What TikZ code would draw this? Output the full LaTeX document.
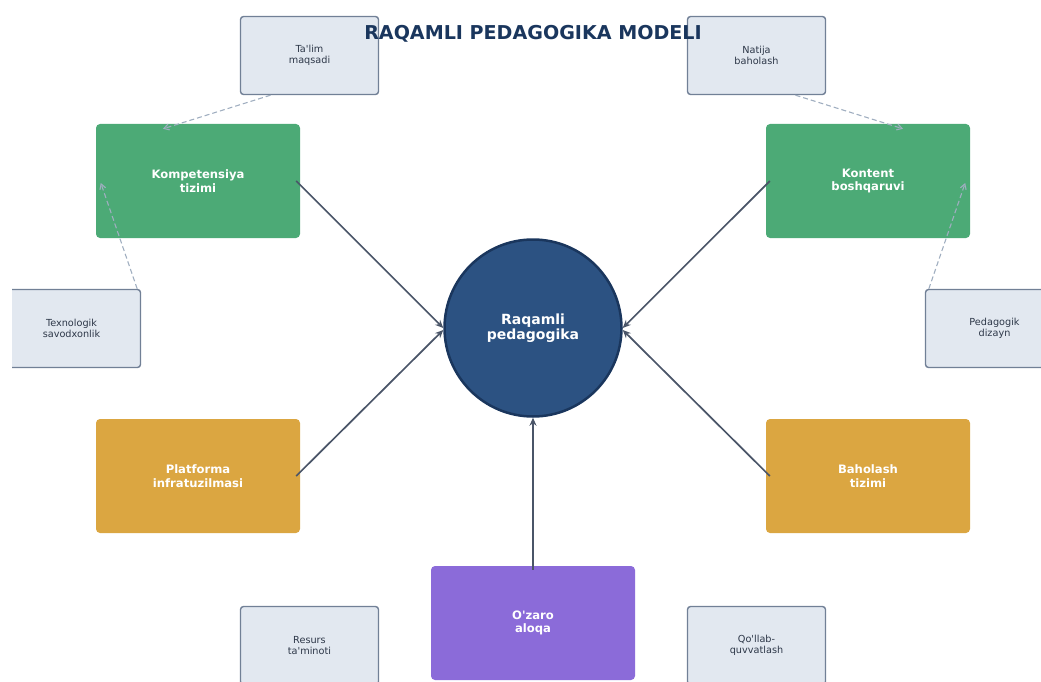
\documentclass[tikz,border=0pt]{standalone}
\usepackage{fontspec}
\setmainfont{DejaVu Sans}
\usetikzlibrary{arrows.meta}

\definecolor{navy}{HTML}{2C5282}
\definecolor{navyd}{HTML}{1A365D}
\definecolor{grn}{HTML}{4CAA76}
\definecolor{org}{HTML}{DBA641}
\definecolor{prp}{HTML}{8B6BD9}
\definecolor{pale}{HTML}{E2E8F0}
\definecolor{paled}{HTML}{718096}
\definecolor{link}{HTML}{4A5568}
\definecolor{dlink}{HTML}{A0AEC0}
\definecolor{txt}{HTML}{2D3748}

\newcommand{\q}{\textquotesingle}

\tikzstyle{cmain}=[circle, draw=navyd, line width=2.5pt, fill=navy, minimum size=177pt, inner sep=0pt, text=white, align=center, font=\fontsize{14}{15.5}\selectfont\bfseries]
\tikzstyle{cbox}=[rectangle, rounded corners=4pt, minimum width=204pt, minimum height=114pt, inner sep=0pt, text=white, align=center, font=\fontsize{11.6}{13.5}\selectfont\bfseries]
\tikzstyle{csmall}=[rectangle, rounded corners=3pt, draw=paled, line width=1.4pt, fill=pale, minimum width=138pt, minimum height=78pt, inner sep=0pt, text=txt, align=center, font=\fontsize{9.7}{11.5}\selectfont]
\tikzstyle{main}=[draw=link, line width=1.7pt, -{Stealth[length=8pt,width=7pt]}]
\tikzstyle{aux}=[draw=dlink, line width=1.1pt, dash pattern=on 5pt off 3pt, -{Straight Barb[length=5pt,width=6pt]}]

\begin{document}
\begin{tikzpicture}[x=1pt, y=-1pt]

\useasboundingbox (0,0) rectangle (1041,682);

\begin{scope}
\clip (12,0) rectangle (1041,682);

% small boxes
\node[csmall] (s1) at (309.5,55.5) {Ta\q lim\\maqsadi};
\node[csmall] (s2) at (756.5,55.5) {Natija\\baholash};
\node[csmall] (s3) at (71.5,328.5) {Texnologik\\savodxonlik};
\node[csmall] (s4) at (994.5,328.5) {Pedagogik\\dizayn};
\node[csmall] (s5) at (309.5,645.5) {Resurs\\ta\q minoti};
\node[csmall] (s6) at (756.5,645.5) {Qo\q llab-\\quvvatlash};

% main boxes
\node[cbox, fill=grn] (n1) at (198,181) {Kompetensiya\\tizimi};
\node[cbox, fill=grn] (n2) at (868,181) {Kontent\\boshqaruvi};
\node[cbox, fill=org] (n3) at (198,476) {Platforma\\infratuzilmasi};
\node[cbox, fill=org] (n4) at (868,476) {Baholash\\tizimi};
\node[cbox, fill=prp] (n5) at (533,623) {O\q zaro\\aloqa};

\node[cmain] (n0) at (533,328) {Raqamli\\pedagogika};

\draw[main] ([xshift=-4pt]n1.east) -- (n0.west);
\draw[main] ([xshift=4pt]n2.west) -- (n0.east);
\draw[main] ([xshift=-4pt]n3.east) -- ([yshift=-2pt]n0.west);
\draw[main] ([xshift=4pt]n4.west) -- ([yshift=-2pt]n0.east);
\draw[main] ([yshift=-4pt]n5.north) -- (n0.south);

\draw[aux] ([xshift=-39pt]s1.south) -- ([xshift=-35pt,yshift=-5pt]n1.north);
\draw[aux] ([xshift=39pt]s2.south) -- ([xshift=35pt,yshift=-5pt]n2.north);
\draw[aux] ([xshift=-4pt]s3.north east) -- ([xshift=5pt,yshift=-2pt]n1.west);
\draw[aux] ([xshift=4pt]s4.north west) -- ([xshift=-5pt,yshift=-2pt]n2.east);
\end{scope}

% title on top
\node[font=\fontsize{19.1}{21}\selectfont\bfseries, text=navyd] (title) at (533,34) {RAQAMLI PEDAGOGIKA MODELI};

\end{tikzpicture}
\end{document}
